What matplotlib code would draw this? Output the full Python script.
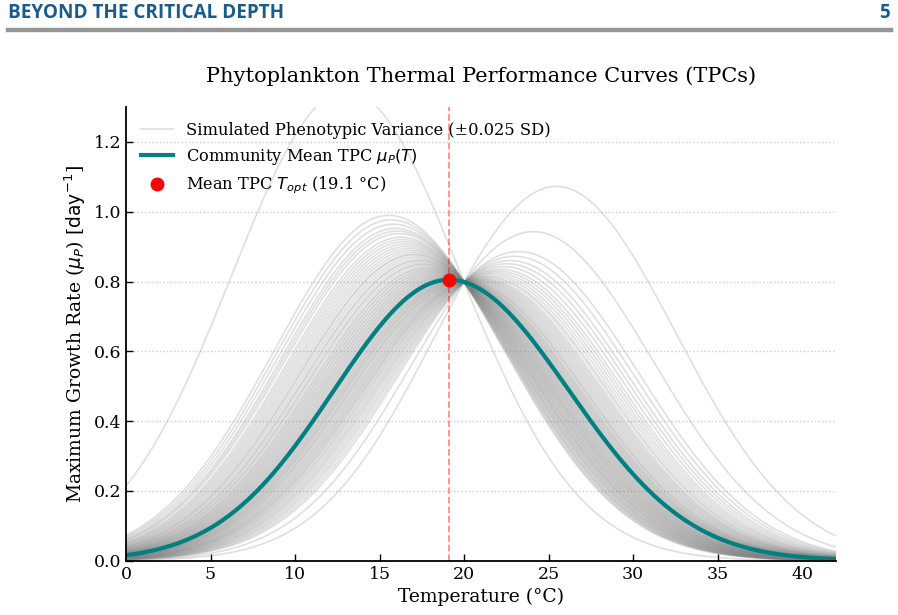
import numpy as np
import matplotlib.pyplot as plt

# community mean TPC: peak, optimum and left/right widths
mu_peak = 0.805
t_opt = 19.1
sigma_cold = 6.8
sigma_warm = 7.1

# all simulated curves cross near this temperature
t_pivot = 20.0

# thermal slope offsets of the simulated phenotypes (estimated from the spread)
k_offsets = [
    -0.131, -0.077, -0.074, -0.071, -0.068, -0.066, -0.064, -0.061, -0.059,
    -0.057, -0.055, -0.053, -0.051, -0.049, -0.047, -0.045, -0.044, -0.042,
    -0.040, -0.038, -0.037, -0.035, -0.033, -0.032, -0.030, -0.028, -0.027,
    -0.025, -0.024, -0.022, -0.021, -0.019, -0.018, -0.016, -0.015, -0.013,
    -0.012, -0.010, -0.009, -0.007, -0.006, -0.004, -0.003, -0.001,
    0.000, 0.002, 0.003, 0.005, 0.006, 0.008, 0.009, 0.011, 0.012, 0.014,
    0.015, 0.017, 0.019, 0.020, 0.022, 0.024, 0.026, 0.028, 0.030, 0.032,
    0.034, 0.036, 0.038, 0.040, 0.043, 0.045, 0.048, 0.051, 0.054, 0.057,
    0.060, 0.064, 0.068, 0.072, 0.077, 0.082, 0.099, 0.126,
]

x_ticks = [0, 5, 10, 15, 20, 25, 30, 35, 40]
y_ticks = [0.0, 0.2, 0.4, 0.6, 0.8, 1.0, 1.2]

T = np.linspace(0, 42, 500)


def mean_tpc(t):
    sig = np.where(t < t_opt, sigma_cold, sigma_warm)
    return mu_peak * np.exp(-(t - t_opt) ** 2 / (2 * sig ** 2))


mu_mean = mean_tpc(T)

fig = plt.figure(figsize=(8.98, 6.15), dpi=100)

# page header
fig.text(8 / 898, 1 - 13 / 615, 'BEYOND THE CRITICAL DEPTH', family='Open Sans',
         weight='bold', size=13.6, color='#1b5b8c', va='center', ha='left')
fig.text(890 / 898, 1 - 13 / 615, '5', family='Open Sans', weight='bold',
         size=13.6, color='#1b5b8c', va='center', ha='right')
fig.add_artist(plt.Line2D([8 / 898, 891 / 898], [1 - 30 / 615, 1 - 30 / 615],
                          color='#959595', lw=3.2, transform=fig.transFigure))

ax = fig.add_axes([126 / 898, 1 - 560.7 / 615, 710 / 898, 453.7 / 615])

for i, k in enumerate(k_offsets):
    ax.plot(T, mu_mean * np.exp(k * (T - t_pivot)), color='gray', alpha=0.25,
            lw=1.2, label='Simulated Phenotypic Variance (±0.025 SD)' if i == 0 else None)

ax.plot(T, mu_mean, color='teal', lw=3, label=r'Community Mean TPC $\mu_P(T)$')
ax.axvline(t_opt, color='red', ls='--', lw=1.3, alpha=0.45)
ax.plot([t_opt], [mean_tpc(np.array([t_opt]))[0]], 'o', color='red', ms=9, zorder=5,
        label=r'Mean TPC $T_{opt}$ (19.1 °C)')

ax.set_xlim(0, 42)
ax.set_ylim(0, 1.3)
ax.set_xticks(x_ticks)
ax.set_yticks(y_ticks)
ax.set_xticklabels([str(v) for v in x_ticks], family='DejaVu Serif', size=12.5)
ax.set_yticklabels(['%.1f' % v for v in y_ticks], family='DejaVu Serif', size=12.5)
ax.tick_params(direction='in', length=5, width=1)
ax.spines['top'].set_visible(False)
ax.spines['right'].set_visible(False)
ax.spines['left'].set_linewidth(1.3)
ax.spines['bottom'].set_linewidth(1.3)
ax.grid(axis='y', ls=':', color='#cccccc', lw=1)
ax.set_axisbelow(True)

ax.set_xlabel('Temperature (°C)', family='DejaVu Serif', size=13.5, labelpad=4)
ax.set_ylabel(r'Maximum Growth Rate ($\mu_P$) [$\mathrm{day}^{-1}$]',
              family='DejaVu Serif', size=13.5)
ax.set_title('Phytoplankton Thermal Performance Curves (TPCs)', family='DejaVu Serif',
             size=15, pad=18)

ax.legend(loc='upper left', frameon=False, prop={'family': 'DejaVu Serif', 'size': 11.7})

fig.savefig('out.png', dpi=100)
